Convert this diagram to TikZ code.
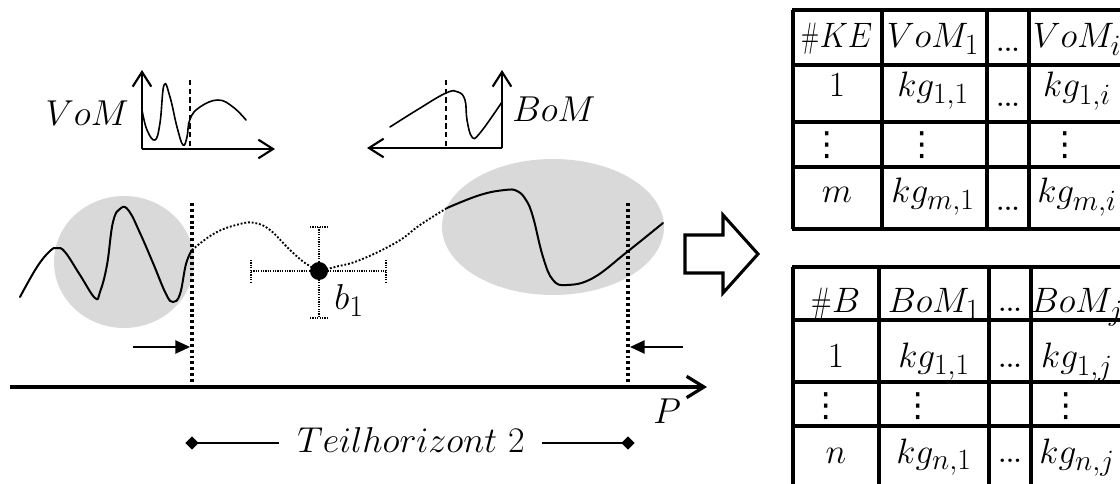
\documentclass[tikz,border=0pt]{standalone}
\usepackage{fontspec}
\newfontfamily\dejavu{DejaVu Sans}
\usetikzlibrary{arrows.meta,shapes.geometric}
\newcommand\myvdots{{\fontsize{25}{28}\selectfont\dejavu ⋮}}
\newcommand\mydots{{\fontsize{18}{20}\selectfont\bfseries ...}}
\newcommand\narrowhash{\scalebox{0.75}[1]{$\#$}}
\newcommand\bigtxt[1]{\scalebox{1.085}{\Huge #1}}
\newcommand\celltxt[1]{\scalebox{1.065}{\Huge #1}}
\begin{document}
\begin{tikzpicture}[x=0.75pt,y=-0.75pt,
  curve/.style={line width=1.5pt, line join=round, line cap=round},
  thickdots/.style={line width=2.4pt, dash pattern=on 2.2pt off 2.2pt},
  thindots/.style={line width=1.4pt, dash pattern=on 1.4pt off 1.4pt},
  errbar/.style={line width=0.9pt, dash pattern=on 0.9pt off 0.9pt},
  plotaxis/.style={line width=1.6pt, -{Straight Barb[length=11pt,width=14pt]}},
  plotdash/.style={line width=1.2pt, dash pattern=on 4pt off 2.5pt},
  blob/.style={fill=black!15, draw=none},
  smallarrow/.style={line width=1.1pt, -{Triangle[length=11pt,width=10pt]}},
  gridline/.style={line width=2.4pt},
  big/.style={inner sep=0pt},
  cell/.style={inner sep=0pt, anchor=base},
  dia/.style={diamond, fill=black, inner sep=0pt, minimum width=10pt, minimum height=10pt, aspect=1}
]
\useasboundingbox (0,0) rectangle (1120,484);
\clip (0,0) rectangle (1120,484);

% ---------- gray blobs ----------
\fill[blob] (124,262) ellipse [x radius=70, y radius=66];
\fill[blob] (553,227) ellipse [x radius=111, y radius=68];

% ---------- VoM mini plot ----------
\coordinate (vo) at (142,149);
\draw[plotaxis] (vo) -- (142,70);
\draw[plotaxis] (vo) -- (275,149);
\draw[plotdash] (190,80) -- (190,149);
\draw[curve, line width=1.2pt] plot[smooth, tension=0.7] coordinates {(142,110) (147,130) (155,140) (160,123) (164,85) (170,97) (177,127) (183,145) (187,137) (190,119) (200,107) (218,100) (233,107) (246,120)};
\node[big, anchor=base east] (vom) at (129,126) {\bigtxt{$VoM$}};

% ---------- BoM mini plot ----------
\coordinate (bo) at (502,148);
\draw[plotaxis] (bo) -- (502,70);
\draw[plotaxis] (bo) -- (367,148);
\draw[plotdash] (446,80) -- (446,148);
\draw[curve, line width=1.2pt] plot[smooth, tension=0.7] coordinates {(390,127) (417,110) (446,93) (458,92) (465,100) (467,120) (472,137) (480,133) (502,102)};
\node[big, anchor=base west] (bom) at (512,122) {\bigtxt{$BoM$}};

% ---------- main curve ----------
\draw[curve] plot[smooth, tension=0.7] coordinates {(20,297) (37,267) (50,251) (57,248) (65,252) (80,275) (95,298) (100,292) (107,265) (113,222) (121,208) (129,211) (140,233) (153,263) (166,294) (173,302) (180,294) (186,264) (192,250)};
\draw[thindots] plot[smooth, tension=0.7] coordinates {(192,250) (215,233) (240,224) (255,223) (270,230) (290,250) (305,263) (319,271)};
\draw[thindots] plot[smooth, tension=0.7] coordinates {(319,271) (335,267) (360,260) (397,242) (420,225) (447,208)};
\draw[curve] plot[smooth, tension=0.7] coordinates {(447,208) (480,195) (505,190) (517,191) (526,200) (533,217) (543,257) (553,280) (567,285) (593,278) (627,252) (663,223)};

% ---------- error bars and point ----------
\draw[errbar] (251,271) -- (386,271);
\draw[errbar] (251,260) -- (251,282);
\draw[errbar] (386,260) -- (386,282);
\draw[errbar] (319,227) -- (319,318);
\draw[errbar] (310,227) -- (328,227);
\draw[errbar] (310,318) -- (328,318);
\node[circle, fill=black, inner sep=0pt, minimum size=13.5pt] (b) at (319,271) {};
\node[big, anchor=base west] (blab) at (334,310) {\bigtxt{$b_1$}};

% ---------- horizon markers ----------
\draw[thickdots] (192,203) -- (192,387);
\draw[thickdots] (628,203) -- (628,387);
\coordinate (la) at (133,347);
\coordinate (lt) at (190,347);
\coordinate (ra) at (683,347);
\coordinate (rt) at (630,347);
\draw[smallarrow] (la) -- (lt);
\draw[smallarrow] (ra) -- (rt);

% ---------- P axis ----------
\coordinate (ax0) at (10,387);
\coordinate (ax1) at (707,387);
\draw[line width=2.4pt, -{Straight Barb[length=13pt,width=16pt]}] (ax0) -- (ax1);
\node[big, anchor=base west] (P) at (653,423) {\bigtxt{$P$}};

% ---------- Teilhorizont ----------
\node[big, anchor=base] (th) at (411,452) {\bigtxt{$Teilhorizont\ 2$}};
\node[dia] (dl) at (192,443) {};
\node[dia] (dr) at (628,443) {};
\draw[line width=1.1pt] (dl.center) -- (279,443);
\draw[line width=1.1pt] (542,443) -- (dr.center);

% ---------- hollow arrow ----------
\draw[line width=2.3pt, line join=miter] (685,235) -- (723,235) -- (723,215) -- (758,254) -- (723,293) -- (723,273) -- (685,273) -- cycle;

% ---------- top table ----------
\foreach \y in {10,65,122,167,229} \draw[gridline] (792,\y) -- (1130,\y);
\foreach \x in {793,882,987,1029} \draw[gridline] (\x,10) -- (\x,229);
\node[cell] (t11) at (837,48) {\scalebox{0.88}[1]{\celltxt{$\narrowhash KE$}}};
\node[cell] (t12) at (933,48) {\celltxt{$VoM_1$}};
\node[cell] (t13) at (1008,52) {\mydots};
\node[cell] (t14) at (1077,48) {\celltxt{$VoM_i$}};
\node[cell] (t21) at (837,97) {\celltxt{$1$}};
\node[cell] (t22) at (933,97) {\celltxt{$kg_{1,1}$}};
\node[cell] (t23) at (1008,107) {\mydots};
\node[cell] (t24) at (1077,97) {\celltxt{$kg_{1,i}$}};
\node[cell, anchor=center] (t31) at (827,145) {\myvdots};
\node[cell, anchor=center] (t32) at (922,145) {\myvdots};
\node[cell, anchor=center] (t34) at (1065,145) {\myvdots};
\node[cell] (t41) at (837,203) {\celltxt{$m$}};
\node[cell] (t42) at (933,203) {\celltxt{$kg_{m,1}$}};
\node[cell] (t43) at (1008,211) {\mydots};
\node[cell] (t44) at (1077,203) {\celltxt{$kg_{m,i}$}};

% ---------- bottom table ----------
\foreach \y in {267,320,382,426} \draw[gridline] (792,\y) -- (1130,\y);
\foreach \x in {793,879,989,1031} \draw[gridline] (\x,267) -- (\x,490);
\node[cell] (b11) at (836,313) {\celltxt{$\narrowhash B$}};
\node[cell] (b12) at (934,313) {\celltxt{$BoM_1$}};
\node[cell] (b13) at (1010,312) {\mydots};
\node[cell] (b14) at (1077,313) {\celltxt{$BoM_j$}};
\node[cell] (b21) at (836,368) {\celltxt{$1$}};
\node[cell] (b22) at (934,368) {\celltxt{$kg_{1,1}$}};
\node[cell] (b23) at (1010,368) {\mydots};
\node[cell] (b24) at (1077,368) {\celltxt{$kg_{1,j}$}};
\node[cell, anchor=center] (b31) at (826,406) {\myvdots};
\node[cell, anchor=center] (b32) at (918,406) {\myvdots};
\node[cell, anchor=center] (b34) at (1066,406) {\myvdots};
\node[cell] (b41) at (836,463) {\celltxt{$n$}};
\node[cell] (b42) at (934,463) {\celltxt{$kg_{n,1}$}};
\node[cell] (b43) at (1010,462) {\mydots};
\node[cell] (b44) at (1077,463) {\celltxt{$kg_{n,j}$}};
\end{tikzpicture}
\end{document}
